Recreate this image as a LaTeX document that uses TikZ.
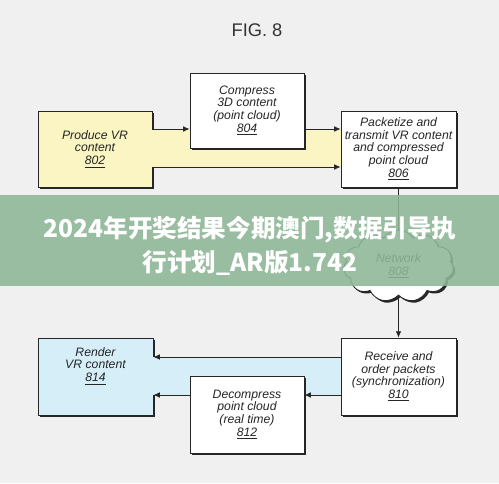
\documentclass[tikz,border=0pt]{standalone}
\usepackage{fontspec}
\setmainfont{Liberation Sans}
\newfontfamily\cjk{Noto Sans CJK SC}
\usetikzlibrary{shapes.symbols,arrows.meta,shadows}

\definecolor{bggray}{RGB}{240,240,240}
\definecolor{boxyellow}{RGB}{250,245,195}
\definecolor{boxblue}{RGB}{214,238,247}
\definecolor{bannergreen}{RGB}{142,183,150}

\tikzset{
  blk/.style={draw=black!85, line width=0.6pt, fill=white,
    minimum width=2.85cm, minimum height=1.9cm, inner sep=1pt,
    align=center, text=black!85,
    font=\fontsize{8.7}{9.1}\selectfont\itshape,
    drop shadow={shadow xshift=1.4pt, shadow yshift=-1.4pt, fill=black!85, opacity=1}},
  arr/.style={-{Latex[length=4.5pt,width=4pt]}, line width=0.6pt, draw=black!85},
  banner/.style={text=white, font=\cjk\bfseries\fontsize{17.5}{21}\selectfont},
}

\begin{document}
\begin{tikzpicture}[x=0.025cm, y=-0.025cm]
\useasboundingbox (0,0) rectangle (499,483);
\fill[bggray] (0,0) rectangle (499,483);

\node[font=\fontsize{13}{15}\selectfont, text=black!80] (title) at (257,30) {FIG. 8};

% band edges
\coordinate (ytop) at (0,129);
\coordinate (ybot) at (0,167);
\coordinate (yblt) at (0,357);
\coordinate (yblb) at (0,395);

% top row
\node[blk, fill=boxyellow] (produce) at (95,149) {Produce VR\\content\\\underline{802}};
\node[blk, minimum width=2.875cm] (packet) at (398.5,149) {Packetize and\\transmit VR content\\and compressed\\point cloud\\\underline{806}};

\fill[boxyellow] (produce.east |- ytop) rectangle (packet.west |- ybot);
\node[blk, minimum height=1.875cm] (compress) at (247,110.5) {Compress\\3D content\\(point cloud)\\\underline{804}};
\draw[arr] (produce.east |- ytop) -- (compress.west |- ytop);
\draw[arr] (compress.east |- ytop) -- (packet.west |- ytop);
\draw[arr] (produce.east |- ybot) -- (packet.west |- ybot);

% bottom row
\node[blk, minimum width=2.875cm, minimum height=1.925cm] (receive) at (398.5,376.5) {Receive and\\order packets\\(synchronization)\\\underline{810}};
\node[blk, fill=boxblue, minimum width=2.875cm, minimum height=1.925cm] (render) at (95.5,376.5) {Render\\VR content\\\underline{814}\\[8pt]};

\fill[boxblue] (render.east |- yblt) rectangle (receive.west |- yblb);
\node[blk, minimum height=1.925cm] (decomp) at (247,414.5) {Decompress\\point cloud\\(real time)\\\underline{812}};
\draw[arr] (receive.west |- yblt) -- (render.east |- yblt);
\draw[arr] (receive.west |- yblb) -- (decomp.east |- yblb);
\draw[arr] (decomp.west |- yblb) -- (render.east |- yblb);

% network
\draw[line width=0.6pt, draw=black!85] (packet.south) -- (398.5,266);
\node[cloud, cloud puffs=11, cloud puff arc=115, aspect=1.5, draw=black!85, line width=0.6pt,
  fill=white, minimum width=2.75cm, minimum height=1.8cm, inner sep=0pt,
  align=center, text=black!85, font=\fontsize{8.7}{9.1}\selectfont\itshape,
  drop shadow={shadow xshift=1.4pt, shadow yshift=-1.4pt, fill=black!85, opacity=1}]
  (net) at (398.5,266) {Network\\\underline{808}};
\draw[arr] (net) -- (receive);

% banner
\fill[bannergreen, opacity=0.88] (0,195) rectangle (499,286);
\node[banner] (bannerA) at (250,230) {2024年开奖结果今期澳门,数据引导执};
\node[banner] (bannerB) at (250,263) {行计划\_AR版1.742};
\end{tikzpicture}
\end{document}
